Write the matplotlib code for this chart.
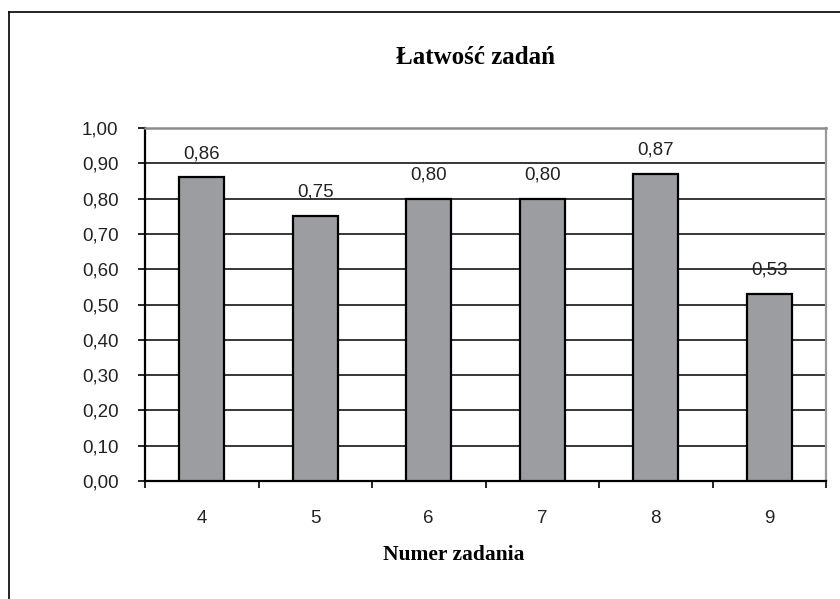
import numpy as np
import matplotlib
matplotlib.use("Agg")
import matplotlib.pyplot as plt
from matplotlib.lines import Line2D

# data
tasks = ["4", "5", "6", "7", "8", "9"]
ease = [0.86, 0.75, 0.80, 0.80, 0.87, 0.53]
value_labels = ["0,86", "0,75", "0,80", "0,80", "0,87", "0,53"]
y_ticks = [0.0, 0.1, 0.2, 0.3, 0.4, 0.5, 0.6, 0.7, 0.8, 0.9, 1.0]

sans = "Liberation Sans"
serif = "Liberation Serif"
fs = 13.5

W, H = 840, 599
fig = plt.figure(figsize=(W / 100, H / 100), dpi=100)
fig.patch.set_facecolor("white")

# plot area in pixels: x 145..826, y 128..481
ax = fig.add_axes([145 / W, 1 - 481 / H, (826 - 145) / W, (481 - 128) / H])

x = np.arange(len(tasks))
ax.bar(x, ease, width=0.4, color="#9b9da1", edgecolor="black", linewidth=1.6, zorder=3)

for xi, v, lab in zip(x, ease, value_labels):
    ax.annotate(lab, (xi, v), xytext=(0, 11), textcoords="offset points",
                ha="center", va="bottom", fontsize=fs, family=sans, color="#222222")

ax.set_xlim(-0.5, len(tasks) - 0.5)
ax.set_ylim(0, 1.0)

ax.set_yticks(y_ticks)
ax.set_yticklabels([f"{t:.2f}".replace(".", ",") for t in y_ticks],
                   fontsize=fs, family=sans, color="#222222")
ax.tick_params(axis="y", direction="out", length=5, width=1.2, pad=14)
ax.yaxis.grid(True, color="black", linewidth=1.1, zorder=0)
ax.set_axisbelow(True)

# category boundaries as major ticks, labels at centres as minor ticks
ax.set_xticks(np.arange(len(tasks) + 1) - 0.5)
ax.set_xticklabels([])
ax.tick_params(axis="x", which="major", direction="out", length=5, width=1.2)
ax.set_xticks(x, minor=True)
ax.set_xticklabels(tasks, minor=True, fontsize=fs, family=sans, color="#222222")
ax.tick_params(axis="x", which="minor", length=0, pad=21)

ax.spines["left"].set_color("black")
ax.spines["left"].set_linewidth(1.6)
ax.spines["bottom"].set_color("black")
ax.spines["bottom"].set_linewidth(1.6)
ax.spines["top"].set_color("#8c8c8c")
ax.spines["top"].set_linewidth(1.8)
ax.spines["right"].set_color("#9a9a9a")
ax.spines["right"].set_linewidth(1.6)

fig.text(475 / W, 1 - 57 / H, "Łatwość zadań", ha="center", va="center",
         fontsize=18, fontweight="bold", family=serif)
fig.text(454 / W, 1 - 555 / H, "Numer zadania", ha="center", va="center",
         fontsize=15.5, fontweight="bold", family=serif)

# outer chart border (only left and top visible in crop)
fig.add_artist(Line2D([9 / W, 9 / W], [0, 1 - 12 / H], color="black", linewidth=1.2,
                      transform=fig.transFigure))
fig.add_artist(Line2D([9 / W, 1], [1 - 12 / H, 1 - 12 / H], color="black", linewidth=1.2,
                      transform=fig.transFigure))

fig.savefig("out.png", dpi=100)
